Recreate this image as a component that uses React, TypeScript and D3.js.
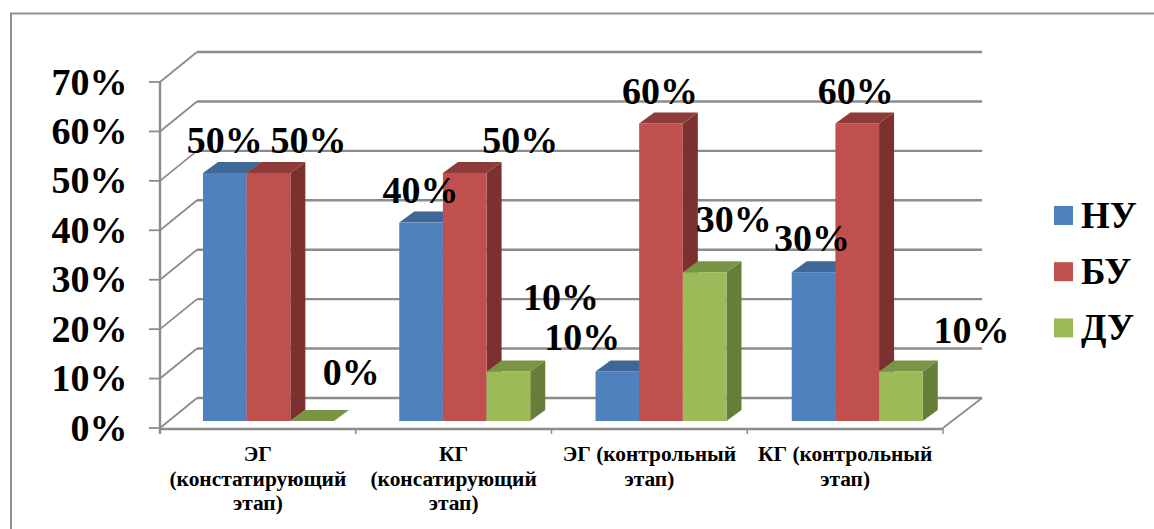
import React from "react";
import * as d3 from "d3";

const categories = [
  ["ЭГ", "(констатирующий", "этап)"],
  ["КГ", "(консатирующий", "этап)"],
  ["ЭГ (контрольный", "этап)"],
  ["КГ (контрольный", "этап)"],
];
const seriesNames = ["НУ", "БУ", "ДУ"];
const nu = [50, 40, 10, 30];
const bu = [50, 50, 60, 60];
const du = [0, 10, 30, 10];
const yTicks = [0, 10, 20, 30, 40, 50, 60, 70];

const seriesValues = [nu, bu, du];
const front = ["#4F81BD", "#C0504D", "#9BBB59"];
const top = ["#3F6797", "#8E3B39", "#7A9445"];
const side = ["#35557E", "#7B3130", "#677D3A"];

// label nudges (dx, dy) from each bar's default anchor, by series then category
const nudges = [
  [[-15, 0], [-15, 0], [-49, -1], [-15, -1]],
  [[25, 0], [41, 0], [-15, 1], [-15, 1]],
  [[24, -16], [38, -41], [15, -20], [57, -8]],
];

const FONT = "'Liberation Serif', 'Times New Roman', serif";
const GRID = "#8c8c8c";

export default function App() {
  const x0 = 160, x1 = 943, dx = 37, dy = 30;
  const yAxis = d3.scaleLinear().domain([0, 70]).range([428, 82]);
  const yBar = d3.scaleLinear().domain([0, 10]).range([421, 371.4]);
  const band = d3.scaleBand<number>().domain(d3.range(4)).range([x0, x1]);
  const barBand = d3.scaleBand<number>().domain(d3.range(4)).range([x0, x1 + 2]);
  const inner = d3.scaleBand<number>().domain(d3.range(3)).range([43, 174]);
  const depthX = 15, depthY = 11;

  const labelY = (s: number, c: number) => yBar(seriesValues[s][c]) - 20;

  return (
    <svg width={1154} height={529} style={{ position: "absolute", left: 0, top: 0, background: "#fff" }}>
      {/* outer frame */}
      <path d="M11,529 V13.5 H1154" fill="none" stroke="#8f8f8f" strokeWidth={2} />

      {/* back wall gridlines and diagonals */}
      {yTicks.map((t) => {
        const y = yAxis(t);
        return (
          <g key={t} fill="none" stroke={GRID}>
            <line x1={x0 + dx} x2={982} y1={y - dy} y2={y - dy} strokeWidth={2.4} />
            <line x1={x0} y1={y} x2={x0 + dx} y2={y - dy} strokeWidth={1.8} />
            <line x1={149} x2={x0} y1={y} y2={y} strokeWidth={1.8} />
          </g>
        );
      })}
      <line x1={x0} x2={x0} y1={82} y2={434} stroke={GRID} strokeWidth={2.4} />
      <line x1={x1} y1={yAxis(0)} x2={982} y2={yAxis(0) - dy} stroke={GRID} strokeWidth={1.8} />
      <line x1={x0} x2={x1} y1={yAxis(0) + 1} y2={yAxis(0) + 1} stroke={GRID} strokeWidth={2.6} />
      {d3.range(5).map((i) => {
        const x = i < 4 ? band(i)! : x1;
        return <line key={i} x1={x} x2={x} y1={yAxis(0)} y2={434} stroke={GRID} strokeWidth={1.5} />;
      })}

      {/* bars */}
      {d3.range(4).map((c) =>
        d3.range(3).map((s) => {
          const v = seriesValues[s][c];
          const x = barBand(c)! + inner(s)!;
          const w = inner.bandwidth();
          const y = yBar(v);
          const b = yBar(0);
          return (
            <g key={`${c}-${s}`}>
              <polygon
                points={`${x + w},${y} ${x + w + depthX},${y - depthY} ${x + w + depthX},${b - depthY} ${x + w},${b}`}
                fill={side[s]}
              />
              <polygon
                points={`${x},${y} ${x + depthX},${y - depthY} ${x + w + depthX},${y - depthY} ${x + w},${y}`}
                fill={top[s]}
              />
              <rect x={x} y={y} width={w} height={b - y} fill={front[s]} />
            </g>
          );
        })
      )}

      {/* value labels */}
      <g fontFamily={FONT} fontWeight="bold" fontSize={38} textAnchor="middle" fill="#000">
        {d3.range(4).map((c) =>
          d3.range(3).map((s) => {
            const w = inner.bandwidth();
            const cx = band(c)! + inner(s)! + w / 2 + depthX;
            return (
              <text key={`${c}-${s}`} x={cx + nudges[s][c][0]} y={labelY(s, c) + nudges[s][c][1]}>
                {seriesValues[s][c]}%
              </text>
            );
          })
        )}
      </g>

      {/* y tick labels */}
      <g fontFamily={FONT} fontWeight="bold" fontSize={38} textAnchor="end" fill="#000">
        {yTicks.map((t) => (
          <text key={t} x={127.5} y={yAxis(t) + 12.5}>
            {t}%
          </text>
        ))}
      </g>

      {/* category labels */}
      <g fontFamily={FONT} fontWeight="bold" fontSize={21.4} textAnchor="middle" fill="#000">
        {categories.map((lines, c) => (
          <text key={c}>
            {lines.map((l, i) => (
              <tspan key={i} x={band(c)! + band.bandwidth() / 2} y={461 + i * 24.5}>
                {l}
              </tspan>
            ))}
          </text>
        ))}
      </g>

      {/* legend */}
      {seriesNames.map((n, i) => (
        <g key={n}>
          <rect x={1054} y={206 + i * 56.2} width={19} height={19} fill={front[i]} />
          <text x={1081} y={228 + i * 56.2} fontFamily={FONT} fontWeight="bold" fontSize={37} fill="#000">
            {n}
          </text>
        </g>
      ))}
    </svg>
  );
}
